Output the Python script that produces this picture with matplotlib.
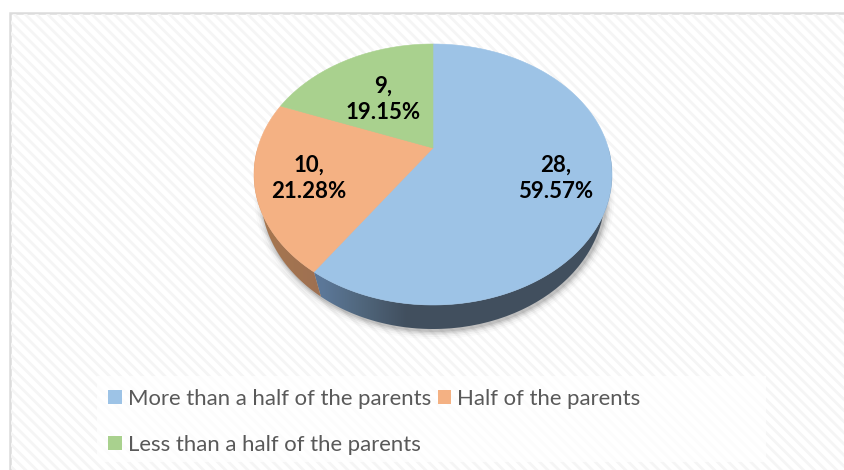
"""3D-look pie of the parents' shares, drawn in pixel coordinates."""
import numpy as np
import matplotlib
matplotlib.use("Agg")
import matplotlib.pyplot as plt
from matplotlib.patches import Ellipse, Patch, Polygon, Rectangle

categories = ["More than a half of the parents", "Half of the parents",
              "Less than a half of the parents"]
values = [28, 10, 9]
colors = ["#9DC3E6", "#F4B183", "#A9D18E"]

# geometry of the tilted disk, in reference pixels
CX, CY, RX, RY = 433.0, 174.5, 179.0, 130.5    # top face ellipse
APEX_Y = 148.0                                 # where the slices meet
TILT = 1.40                                    # x/y stretch of slice rays
LOW_CY, LOW_RX, LOW_RY = 195.0, 172.0, 134.0   # bottom rim ellipse
EDGE_SHIFT = 7.0                               # slant of the wall seam

plt.rcParams["font.family"] = ["Lato", "DejaVu Sans"]
plt.rcParams["hatch.color"] = "#f5f5f5"
plt.rcParams["hatch.linewidth"] = 2.0


def rim_point(theta):
    """Ray from the apex at theta (clockwise from top) to the top ellipse."""
    dx = np.sin(theta) * TILT
    dy = -np.cos(theta)
    off = APEX_Y - CY
    a = (dx / RX) ** 2 + (dy / RY) ** 2
    b = 2 * dy * off / RY ** 2
    c = (off / RY) ** 2 - 1
    t = (-b + np.sqrt(b * b - 4 * a * c)) / (2 * a)
    return CX + t * dx, APEX_Y + t * dy


def rim_arc(t0, t1, n=160):
    return np.array([rim_point(t) for t in np.linspace(t0, t1, n)])


def low_rim(x0, x1, n=160):
    xs = np.linspace(x0, x1, n)
    ys = LOW_CY + LOW_RY * np.sqrt(np.clip(
        1 - ((xs - CX) / LOW_RX) ** 2, 0, 1))
    return np.c_[xs, ys]


def side_patch(ax, top_arc, low_arc, stops, shades):
    """Wall between top-face arc and bottom rim, with a horizontal gradient."""
    verts = np.r_[top_arc, low_arc]
    x0, x1 = verts[:, 0].min(), verts[:, 0].max()
    y0, y1 = verts[:, 1].min(), verts[:, 1].max()
    xs = np.linspace(x0, x1, 128)
    shades = np.array(shades)
    img = np.stack([np.interp(xs, stops, shades[:, k]) for k in range(3)],
                   axis=-1)[None, :, :]
    im = ax.imshow(img, extent=[x0, x1, y1, y0], aspect="auto", zorder=3,
                   interpolation="bilinear")
    poly = Polygon(verts, closed=True, transform=ax.transData,
                   fc="none", ec="none")
    ax.add_patch(poly)
    im.set_clip_path(poly)


fig = plt.figure(figsize=(8.45, 4.7), dpi=100)
ax = fig.add_axes([0, 0, 1, 1])
ax.set_xlim(0, 845)
ax.set_ylim(470, 0)
ax.axis("off")

# chart area: hatched background with a grey frame
ax.add_patch(Rectangle((10, 13), 860, 480, fc="white", ec="#dcdcdc", lw=1.8,
                       zorder=0))
ax.add_patch(Rectangle((11, 14), 860, 480, fc="none", ec="#f5f5f5", lw=0,
                       hatch="\\\\\\", zorder=0.5))

# soft shadow under the disk
for grow, alpha in zip([8, 6, 4, 2.5, 1], [.02, .03, .05, .07, .09]):
    ax.add_patch(Ellipse((CX + 1.5, LOW_CY + 2), 2 * (LOW_RX + grow),
                         2 * (LOW_RY + grow), fc="black", ec="none",
                         alpha=alpha, zorder=1))

fracs = np.array(values) / sum(values)
edges = np.r_[0, np.cumsum(fracs)] * 2 * np.pi

# walls: only the blue and orange slices reach the front
seam_x = rim_point(edges[1])[0] + EDGE_SHIFT
side_patch(ax, rim_arc(np.pi * 0.5, edges[1]),
           low_rim(seam_x, CX + LOW_RX),
           [seam_x, seam_x + 35, seam_x + 85, 800],
           [(0.36, 0.47, 0.60), (0.32, 0.41, 0.50),
            (0.255, 0.31, 0.37), (0.255, 0.31, 0.37)])
side_patch(ax, rim_arc(edges[1], np.pi * 1.5),
           low_rim(CX - LOW_RX, seam_x),
           [250, 320], [(0.66, 0.47, 0.31), (0.62, 0.44, 0.32)])

# top face
for i, color in enumerate(colors):
    arc = rim_arc(edges[i], edges[i + 1])
    verts = np.r_[[[CX, APEX_Y]], arc]
    ax.add_patch(Polygon(verts, closed=True, fc=color, ec=color, lw=0.4,
                         zorder=4))

# data labels
label_xy = [(556, 178.5), (309, 178.5), (383, 99.5)]
for v, f, (lx, ly) in zip(values, fracs, label_xy):
    ax.text(lx, ly, f"{v},\n{f * 100:.2f}%", ha="center", va="center",
            fontsize=16, fontweight="bold", color="black", zorder=6,
            linespacing=1.35)

# legend on its white panel
ax.add_patch(Rectangle((97, 376), 669, 86, fc="white", ec="none", alpha=0.7,
                       zorder=1.5))
order = [0, 2, 1]
handles = [Patch(fc=colors[i], ec="none", label=categories[i]) for i in order]
ax.legend(handles=handles, ncol=2, frameon=False, fontsize=15.9,
          loc="upper left", bbox_to_anchor=(108 / 845, 1 - 389 / 470),
          bbox_transform=fig.transFigure, borderaxespad=0, borderpad=0,
          handlelength=0.625, handleheight=0.625, handletextpad=0.27,
          columnspacing=0.3, labelspacing=1.16, labelcolor="#595959")

fig.savefig("out.png", dpi=100)
